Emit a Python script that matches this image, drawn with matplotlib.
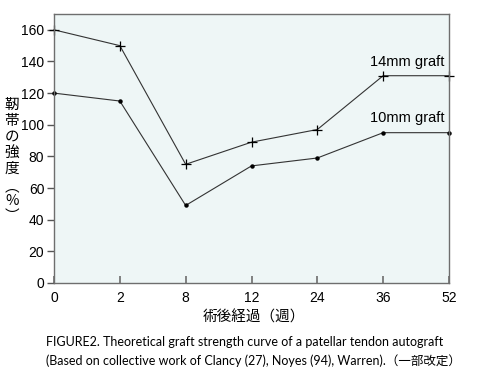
import numpy as np
import matplotlib
matplotlib.use("Agg")
import matplotlib.pyplot as plt

# ── Data ──────────────────────────────────────────────────────────────────────
weeks = ["0", "2", "8", "12", "24", "36", "52"]
graft_14mm = [160, 150, 75, 89, 97, 131, 131]
graft_10mm = [120, 115, 49, 74, 79, 95, 95]
y_ticks = [0, 20, 40, 60, 80, 100, 120, 140, 160]
ylabel_chars = ["靭", "帯", "の", "強", "度", "︵", "%", "︶"]
ylabel_ypix = [105, 121, 137, 153, 169, 187, 201, 216]

plt.rcParams['font.family'] = ['Liberation Sans', 'Noto Sans CJK JP', 'DejaVu Sans']
CJK = ["Noto Sans CJK JP", "DejaVu Sans"]

W, H = 478, 381
fig = plt.figure(figsize=(W / 100, H / 100), dpi=100)
ax = fig.add_axes([54 / W, 1 - 283 / H, (449 - 54) / W, (283 - 14) / H])
ax.set_facecolor("#eef6f6")

x = np.arange(len(weeks))
ax.plot(x, graft_14mm, color="#333333", lw=0.8, marker="+", ms=6.5, mew=0.9,
        mec="black", clip_on=False)
ax.plot(x, graft_10mm, color="#333333", lw=0.8, marker="o", ms=2.2,
        mfc="black", mec="black", clip_on=False)

ax.set_xlim(0, len(weeks) - 1)
ax.set_ylim(0, 170)
ax.set_xticks(x)
ax.set_xticklabels(weeks)
ax.set_yticks(y_ticks)

for s in ax.spines.values():
    s.set_color("#6e6e6e")
    s.set_linewidth(1.0)

ax.tick_params(axis="y", direction="out", length=5, width=1, color="#555555",
               labelsize=10, pad=2)
ax.tick_params(axis="x", direction="in", length=5, width=1.3, color="#777777",
               labelsize=10, pad=6)

ax.text(5.93, 135.5, "14mm graft", ha="right", va="bottom", fontsize=10.5)
ax.text(5.93, 100, "10mm graft", ha="right", va="bottom", fontsize=10.5)

# vertical Japanese y label, one character at a time
for ch, yp in zip(ylabel_chars, ylabel_ypix):
    fig.text(12 / W, 1 - yp / H, ch, ha="center", va="center",
             fontsize=10.5, family=CJK)

fig.text(254 / W, 1 - 318 / H, "術後経過（週）", ha="center", va="center",
         fontsize=10.5, family=CJK)

fig.text(46 / W, 1 - 342 / H,
         "FIGURE2. Theoretical graft strength curve of a patellar tendon autograft",
         ha="left", va="center", fontsize=9.0, family=["Lato", "Noto Sans CJK JP"])
fig.text(46 / W, 1 - 361 / H,
         "(Based on collective work of Clancy (27), Noyes (94), Warren).（一部改定）",
         ha="left", va="center", fontsize=9.0, family=["Lato", "Noto Sans CJK JP"])

fig.savefig("out.png", dpi=100)
